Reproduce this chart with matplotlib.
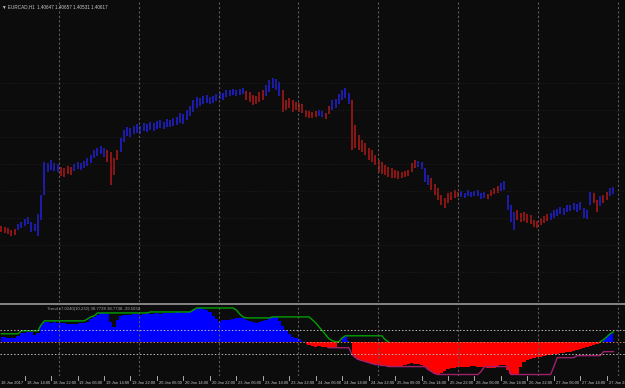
import numpy as np
import matplotlib.pyplot as plt

plt.rcParams['font.family'] = ['Liberation Sans', 'DejaVu Sans']

# EURCAD H1, one entry per bar (18 Jan 07:00 .. 27 Jan 23:00)
highs = [1.4026, 1.4025, 1.4024, 1.4022, 1.4023, 1.4028, 1.4030, 1.4033, 1.4035, 1.4030,
         1.4028, 1.4038, 1.4057, 1.4090, 1.4089, 1.4092, 1.4089, 1.4088, 1.4085, 1.4084,
         1.4086, 1.4085, 1.4088, 1.4090, 1.4089, 1.4091, 1.4094, 1.4097, 1.4102, 1.4104,
         1.4106, 1.4104, 1.4102, 1.4100, 1.4094, 1.4102, 1.4114, 1.4122, 1.4125, 1.4124,
         1.4126, 1.4128, 1.4126, 1.4129, 1.4128, 1.4130, 1.4129, 1.4131, 1.4132, 1.4130,
         1.4133, 1.4132, 1.4134, 1.4135, 1.4139, 1.4138, 1.4142, 1.4146, 1.4152, 1.4155,
         1.4154, 1.4156, 1.4157, 1.4155, 1.4156, 1.4158, 1.4160, 1.4159, 1.4162, 1.4162,
         1.4163, 1.4162, 1.4163, 1.4164, 1.4161, 1.4160, 1.4157, 1.4156, 1.4160, 1.4162,
         1.4167, 1.4172, 1.4174, 1.4173, 1.4170, 1.4162, 1.4152, 1.4154, 1.4152, 1.4150,
         1.4149, 1.4148, 1.4142, 1.4141, 1.4140, 1.4141, 1.4142, 1.4141, 1.4139, 1.4146,
         1.4152, 1.4153, 1.4158, 1.4162, 1.4164, 1.4159, 1.4152, 1.4127, 1.4117, 1.4112,
         1.4109, 1.4104, 1.4102, 1.4097, 1.4092, 1.4090, 1.4087, 1.4085, 1.4084, 1.4082,
         1.4081, 1.4080, 1.4081, 1.4082, 1.4089, 1.4092, 1.4091, 1.4090, 1.4084, 1.4077,
         1.4074, 1.4068, 1.4064, 1.4057, 1.4054, 1.4059, 1.4060, 1.4062, 1.4060, 1.4061,
         1.4059, 1.4062, 1.4060, 1.4061, 1.4062, 1.4059, 1.4060, 1.4058, 1.4062, 1.4064,
         1.4066, 1.4069, 1.4071, 1.4057, 1.4047, 1.4040, 1.4042, 1.4039, 1.4040, 1.4038,
         1.4037, 1.4032, 1.4031, 1.4034, 1.4036, 1.4038, 1.4039, 1.4042, 1.4043, 1.4045,
         1.4044, 1.4047, 1.4047, 1.4049, 1.4048, 1.4050, 1.4044, 1.4042, 1.4060, 1.4059,
         1.4052, 1.4056, 1.4057, 1.4060, 1.4064, 1.4065]
lows = [1.4020, 1.4019, 1.4018, 1.4016, 1.4017, 1.4022, 1.4024, 1.4026, 1.4028, 1.4020,
        1.4021, 1.4016, 1.4032, 1.4057, 1.4080, 1.4082, 1.4081, 1.4080, 1.4076, 1.4075,
        1.4078, 1.4077, 1.4081, 1.4083, 1.4082, 1.4084, 1.4086, 1.4089, 1.4094, 1.4096,
        1.4098, 1.4095, 1.4090, 1.4067, 1.4077, 1.4092, 1.4100, 1.4110, 1.4116, 1.4115,
        1.4118, 1.4119, 1.4118, 1.4121, 1.4120, 1.4122, 1.4121, 1.4123, 1.4124, 1.4123,
        1.4125, 1.4125, 1.4126, 1.4127, 1.4129, 1.4128, 1.4132, 1.4136, 1.4140, 1.4144,
        1.4146, 1.4148, 1.4149, 1.4148, 1.4149, 1.4151, 1.4153, 1.4152, 1.4155, 1.4156,
        1.4157, 1.4156, 1.4157, 1.4158, 1.4152, 1.4150, 1.4147, 1.4148, 1.4150, 1.4152,
        1.4156, 1.4160, 1.4164, 1.4162, 1.4156, 1.4140, 1.4142, 1.4144, 1.4140, 1.4142,
        1.4140, 1.4139, 1.4135, 1.4134, 1.4134, 1.4135, 1.4136, 1.4135, 1.4133, 1.4138,
        1.4142, 1.4144, 1.4148, 1.4152, 1.4154, 1.4148, 1.4102, 1.4104, 1.4102, 1.4100,
        1.4097, 1.4092, 1.4090, 1.4087, 1.4080, 1.4078, 1.4077, 1.4075, 1.4074, 1.4074,
        1.4073, 1.4074, 1.4075, 1.4076, 1.4080, 1.4084, 1.4085, 1.4083, 1.4070, 1.4067,
        1.4062, 1.4057, 1.4052, 1.4047, 1.4044, 1.4049, 1.4052, 1.4054, 1.4055, 1.4055,
        1.4054, 1.4056, 1.4055, 1.4056, 1.4056, 1.4053, 1.4054, 1.4053, 1.4056, 1.4058,
        1.4059, 1.4061, 1.4062, 1.4042, 1.4030, 1.4022, 1.4032, 1.4030, 1.4031, 1.4029,
        1.4028, 1.4025, 1.4024, 1.4027, 1.4029, 1.4031, 1.4032, 1.4034, 1.4036, 1.4038,
        1.4037, 1.4040, 1.4041, 1.4042, 1.4040, 1.4042, 1.4034, 1.4033, 1.4047, 1.4049,
        1.4040, 1.4046, 1.4049, 1.4052, 1.4056, 1.4058]
# bar colour: u = blue, d = red
bar_dir = ("ddddduuuuuuuuuuuuudddduuuuuuuuuudddduuuuuuuuuuuuuuuuuuuuuuuuuuuuuuuuuuuuuu"
           "dddddduuuuuddddddddddduudduuuuuudddddddddddddddddddduuuuddddddddduuuuuuuu"
           "dddduuuuudddddddddduuuuuuuuuuuuuddudduuuu")

# Trend indicator: histogram, upper (green) and lower (magenta) lines
trend = [5, 5, 4, 4, 4, 6, 9, 9, 10, 10,
         7, 9, 17, 20, 20, 19, 20, 19, 19, 19,
         18, 18, 18, 18, 19, 19, 20, 23, 25, 27,
         29, 29, 28, 20, 15, 22, 26, 27, 27, 27,
         28, 28, 27, 28, 29, 28, 28, 29, 28, 29,
         29, 29, 29, 30, 30, 29, 30, 30, 32, 34,
         34, 33, 32, 30, 26, 23, 20, 22, 22, 22,
         23, 24, 24, 24, 22, 21, 20, 19, 20, 21,
         22, 24, 25, 25, 21, 16, 12, 8, 5, 4,
         3, 1, -2, -3, -4, -5, -4, -5, -5, -6,
         -6, -5, -1, 4, 6, 1, -13, -16, -18, -19,
         -20, -21, -22, -23, -23, -24, -24, -25, -25, -24,
         -24, -24, -23, -22, -21, -22, -22, -23, -25, -28,
         -30, -32, -33, -31, -29, -27, -26, -26, -25, -25,
         -25, -25, -24, -24, -25, -25, -25, -26, -26, -26,
         -24, -23, -23, -28, -32, -33, -32, -25, -20, -18,
         -17, -16, -15, -15, -14, -13, -13, -12, -12, -11,
         -11, -10, -10, -9, -8, -7, -6, -5, -4, -3,
         -2, -1, 2, 5, 8, 10]
upper = ([8] * 6 + [11] * 6 + [17] + [21] * 13 + [23, 25, 26] + [29] * 16 + [30] * 13
         + [32] + [34] * 12 + [32, 28, 25] + [24] * 8 + [25] * 12
         + [22, 19, 15, 11, 7, 3, 1, 0, 0, 4] + [6] * 12 + [2, 0]
         + [None] * 63 + [0, 2, 5, 8, 10])
lower = ([None] * 99 + [-6] * 7
         + [-13, -16, -18, -19, -20, -21, -22, -23, -23, -24, -24] + [-25] * 12
         + [-28, -30, -32] + [-33] * 13 + [-30] + [-25] * 8 + [-33] * 13
         + [-25] + [-16] * 6 + [-14] * 8 + [-10] * 4)
levels = [12, 0, -12]

tick_labels = ["18 Jan 14:00", "18 Jan 22:00", "19 Jan 06:00", "19 Jan 14:00", "19 Jan 22:00",
               "20 Jan 06:00", "20 Jan 14:00", "20 Jan 22:00", "23 Jan 06:00", "23 Jan 14:00",
               "23 Jan 22:00", "24 Jan 06:00", "24 Jan 14:00", "24 Jan 22:00", "25 Jan 06:00",
               "25 Jan 14:00", "25 Jan 22:00", "26 Jan 06:00", "26 Jan 14:00", "26 Jan 22:00",
               "27 Jan 06:00", "27 Jan 14:00", "27 Jan 22:00"]
tick_pos = [7 + 8 * k for k in range(len(tick_labels))]
grid_pos = [17.4, 41.6, 65.8, 89.7, 113.9, 138.1, 162.3, 186.5]

bg = '#0c0c0c'
grid_c = '#5a5a5a'
txt_c = '#c8c8c8'
x = np.arange(len(highs))
xlim = (-0.45, 188.5)

fig = plt.figure(figsize=(6.25, 3.88), dpi=100, facecolor=bg)
ax = fig.add_axes([0, 1 - 302 / 388, 1, 302 / 388], facecolor=bg)
ax2 = fig.add_axes([0, 1 - 376 / 388, 1, 71 / 388], facecolor=bg)

# price bars
cols = ['#2222d8' if c == 'u' else '#b01818' for c in bar_dir]
ax.vlines(x, lows, highs, colors=cols, linewidth=1.1)
ax.set_xlim(*xlim)
ax.set_ylim(1.3950, 1.4252)
for g in grid_pos:
    ax.axvline(g, color=grid_c, lw=0.8, ls=(0, (2, 2)))
for hy in [1.4169, 1.4142, 1.4115, 1.4088, 1.4061, 1.4034, 1.4007, 1.3980]:
    ax.axhline(hy, color='#242424', lw=0.6, ls=(0, (1, 2)))
ax.text(0.003, 0.985, "\u25bc EURCAD,H1  1.40647 1.40657 1.40531 1.40617",
        transform=ax.transAxes, color=txt_c, fontsize=3.3, va='top', ha='left')

# indicator panel
t = np.array(trend, dtype=float)
up = np.array([np.nan if v is None else v for v in upper], dtype=float)
lo = np.array([np.nan if v is None else v for v in lower], dtype=float)
ax2.fill_between(x, 0, t, where=t >= 0, color='#0000ff', step='mid', lw=0)
ax2.fill_between(x, 0, t, where=t <= 0, color='#ff0000', step='mid', lw=0)
ax2.plot(x, up, color='#00a000', lw=1.0)
ax2.plot(x, lo, color='#a0206e', lw=1.0)
ax2.axhline(levels[0], color='#bbbbbb', lw=0.7, ls=(0, (1.5, 2)))
ax2.axhline(levels[1], color='#d08060', lw=0.7, ls=(0, (1.5, 2)))
ax2.axhline(levels[2], color='#bbbbbb', lw=0.7, ls=(0, (1.5, 2)))
for g in grid_pos:
    ax2.axvline(g, color=grid_c, lw=0.8, ls=(0, (2, 2)))
ax2.set_xlim(*xlim)
ax2.set_ylim(-34.5, 37)
ax2.text(0.075, 0.97, "Trend v7.0240(10,232) 38.7738 38.7738 -39.5032",
         transform=ax2.transAxes, color='#a0a0a0', fontsize=3.1, va='top', ha='left')

# panel separator
fig.add_artist(plt.Line2D([0, 1], [1 - 303.5 / 388] * 2, color='#9a9a9a', lw=1.2))

for a in (ax, ax2):
    a.set_xticks([])
    a.set_yticks([])
    for s in a.spines.values():
        s.set_visible(False)

# time axis
for p, lab in zip(tick_pos, tick_labels):
    xf = (p - xlim[0]) / (xlim[1] - xlim[0])
    fig.add_artist(plt.Line2D([xf, xf], [1 - 376 / 388, 1 - 380 / 388], color=txt_c, lw=0.6))
    fig.text(xf + 0.003, 1 - 383 / 388, lab, color=txt_c, fontsize=2.9, va='center', ha='left')
fig.text(0.002, 1 - 383 / 388, "18 Jan 2017", color=txt_c, fontsize=2.9, va='center', ha='left')

fig.savefig('out.png', dpi=100, facecolor=bg)
